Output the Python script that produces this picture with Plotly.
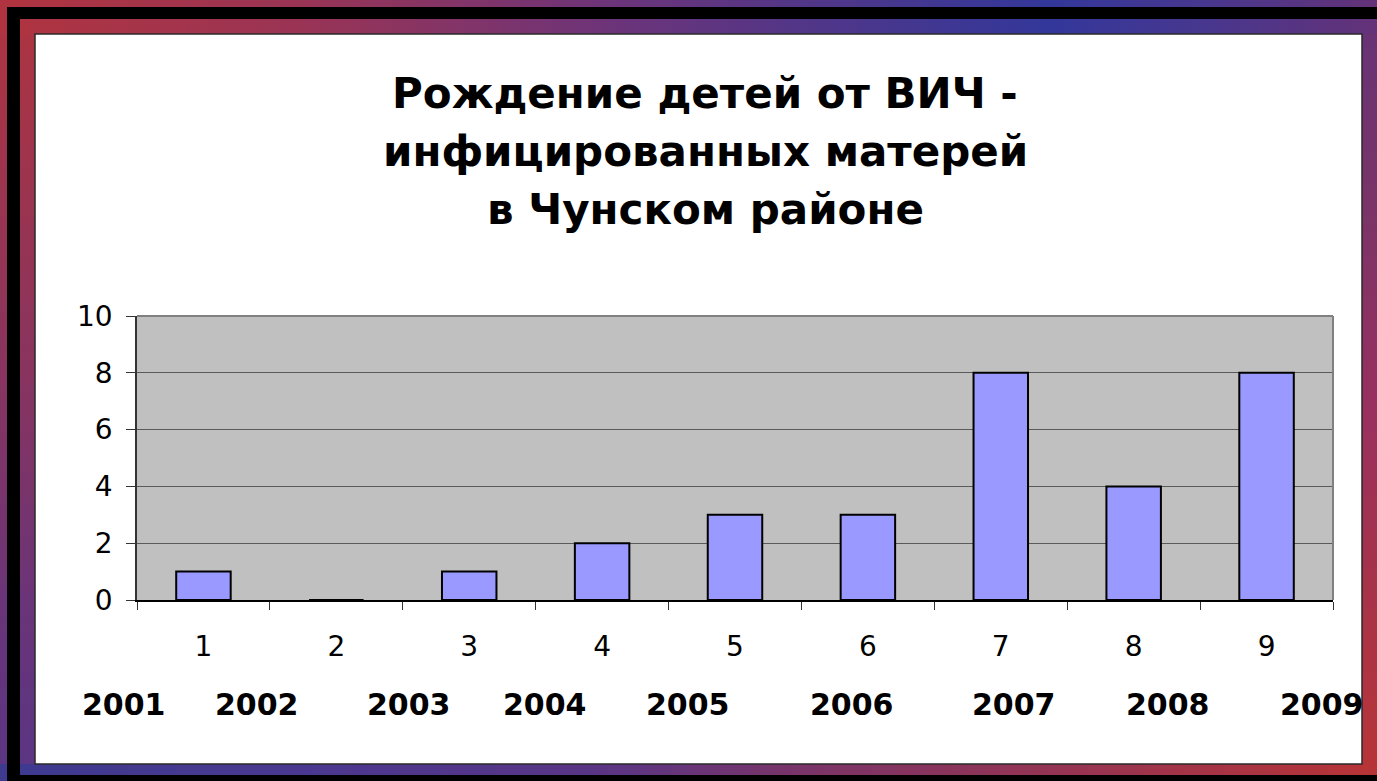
import plotly.graph_objects as go

# ---- data ----
categories = ["1", "2", "3", "4", "5", "6", "7", "8", "9"]
births = [1, 0, 1, 2, 3, 3, 8, 4, 8]
year_labels = ["2001", "2002", "2003", "2004", "2005", "2006", "2007", "2008", "2009"]
title_lines = ["Рождение детей от ВИЧ -", "инфицированных матерей", "в Чунском районе"]
y_ticks = [0, 2, 4, 6, 8, 10]

# ---- layout geometry (pixels) ----
W, H = 1377, 781
ML, MR, MT, MB = 137, 44, 316, 181
PW, PH = W - ML - MR, H - MT - MB


def px_x(px):
    return (px - ML) / PW


def px_y(py):
    return (H - MB - py) / PH


def hex2rgb(h):
    h = h.lstrip("#")
    return tuple(int(h[i:i + 2], 16) for i in (0, 2, 4))


def interp(stops, v):
    for (a, ca), (b, cb) in zip(stops, stops[1:]):
        if a <= v <= b:
            t = (v - a) / (b - a) if b > a else 0
            c1, c2 = hex2rgb(ca), hex2rgb(cb)
            return "rgb(%d,%d,%d)" % tuple(round(c1[i] + (c2[i] - c1[i]) * t) for i in range(3))
    return stops[-1][1]


top_stops = [(0, "#b0343f"), (300, "#9a3455"), (600, "#6e3478"), (900, "#45378f"),
             (1050, "#33379a"), (1200, "#47378f"), (1377, "#643278")]
right_stops = [(0, "#643278"), (200, "#7a3468"), (400, "#983060"), (600, "#a83348"), (781, "#b83436")]
bottom_stops = [(0, "#3d3a8f"), (300, "#4a3890"), (600, "#5a3585"), (800, "#7a3468"),
                (1100, "#9a3450"), (1377, "#b83436")]
left_stops = [(0, "#b0343f"), (200, "#9a3450"), (400, "#853462"), (600, "#6a3478"), (781, "#5a3585")]

shapes = []


def rect(x0, y0, x1, y1, color, line=None):
    shapes.append(dict(type="rect", xref="paper", yref="paper",
                       x0=px_x(x0), x1=px_x(x1), y0=px_y(y1), y1=px_y(y0),
                       fillcolor=color, line=dict(width=0) if line is None else line,
                       layer="above"))


STEP = 8
for y in range(0, H, STEP):
    c = interp(left_stops, y + STEP / 2)
    rect(0, y, 35, y + STEP + 0.5, c)
    c = interp(right_stops, y + STEP / 2)
    rect(1362, y, W, y + STEP + 0.5, c)
for x in range(0, W, STEP):
    c = interp(top_stops, x + STEP / 2)
    rect(x, 0, x + STEP + 0.5, 34, c)
    c = interp(bottom_stops, x + STEP / 2)
    rect(x, 764, x + STEP + 0.5, H, c)

# black bands
rect(7, 7, W, 19, "black")
rect(7, 7, 20, H, "black")
rect(7, 775, W, H, "black")
# thin panel border
shapes.append(dict(type="rect", xref="paper", yref="paper",
                   x0=px_x(35), x1=px_x(1362), y0=px_y(764), y1=px_y(34),
                   line=dict(color="#2a2a2a", width=1.5), fillcolor="rgba(0,0,0,0)", layer="above"))

# plot-area border (top & right) in gray
shapes.append(dict(type="line", xref="x domain", yref="y domain", x0=0, x1=1, y0=1, y1=1,
                   line=dict(color="#808080", width=2), layer="above"))
shapes.append(dict(type="line", xref="x domain", yref="y domain", x0=1, x1=1, y0=0, y1=1,
                   line=dict(color="#808080", width=2), layer="above"))

fig = go.Figure(go.Bar(
    x=categories, y=births,
    marker=dict(color="#9999ff", line=dict(color="black", width=2)),
    hoverinfo="x+y",
))

annotations = []
title_px_y = [93, 151, 209]
for line_text, py in zip(title_lines, title_px_y):
    annotations.append(dict(text=line_text, xref="paper", yref="paper",
                            x=px_x(705), y=px_y(py), xanchor="center", yanchor="middle",
                            showarrow=False,
                            font=dict(family="DejaVu Sans", size=42, color="black", weight="bold")))

# year captions: horizontal position in category units (0-based index)
year_pos = [-0.6, 0.40, 1.55, 2.57, 3.65, 4.88, 6.1, 7.26, 8.42]
n = len(categories)
for lab, pos in zip(year_labels, year_pos):
    annotations.append(dict(text=lab, xref="paper", yref="paper", x=(pos + 0.5) / n, y=px_y(704),
                            xanchor="center", yanchor="middle", showarrow=False,
                            font=dict(family="DejaVu Sans", size=30, color="black", weight="bold")))

fig.update_layout(
    width=W, height=H,
    margin=dict(l=ML, r=MR, t=MT, b=MB, pad=0),
    paper_bgcolor="white",
    plot_bgcolor="#c0c0c0",
    showlegend=False,
    bargap=0.59,
    shapes=shapes,
    annotations=annotations,
    font=dict(family="DejaVu Sans", color="black"),
)
fig.update_xaxes(
    type="category", categoryorder="array", categoryarray=categories,
    showgrid=False, showline=True, linecolor="black", linewidth=1.5,
    ticks="outside", tickson="boundaries", ticklen=8, tickcolor="#333333", tickwidth=1,
    tickfont=dict(size=28, color="black"), ticklabelstandoff=21,
    range=[-0.5, n - 0.5], fixedrange=True,
)
fig.update_yaxes(
    range=[0, 10], tickvals=y_ticks, showgrid=True, gridcolor="#5a5a5a", gridwidth=1,
    showline=True, linecolor="#333333", linewidth=1.5,
    ticks="outside", ticklen=9, tickcolor="#333333", tickwidth=1,
    tickfont=dict(size=28, color="black"), ticklabelstandoff=8, zeroline=False,
    fixedrange=True,
)

fig.write_html("out.html", config={"displayModeBar": False},
               post_script="document.body.style.margin='0';document.body.style.overflow='hidden';")
